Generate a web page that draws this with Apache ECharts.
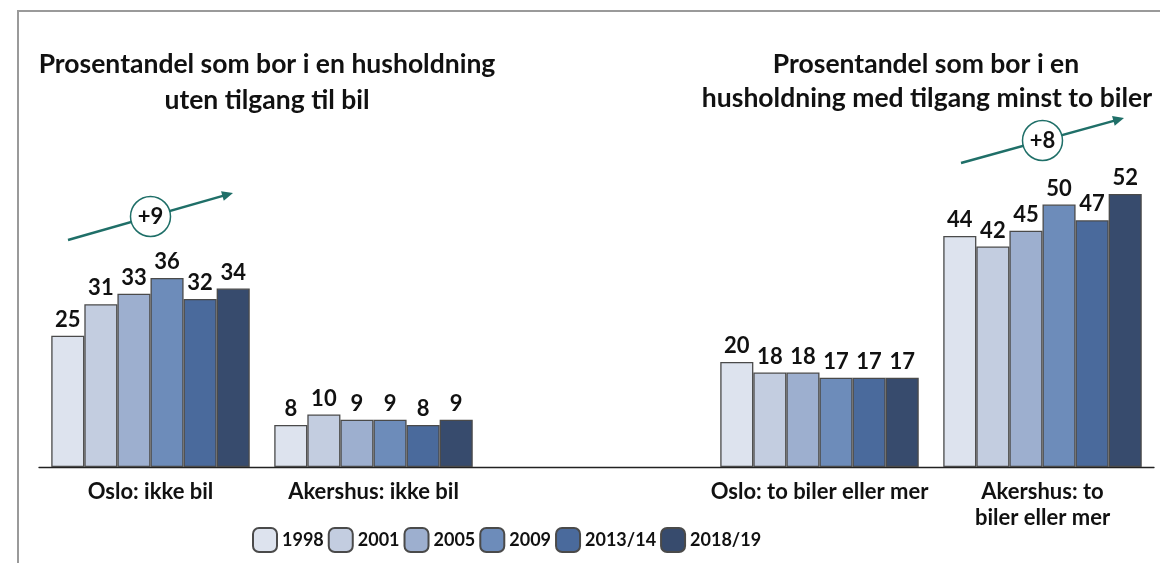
<!DOCTYPE html>
<html>
<head>
<meta charset="utf-8">
<script src="https://cdn.jsdelivr.net/npm/echarts@6/dist/echarts.min.js"></script>
<style>
  html, body { margin: 0; padding: 0; background: #fff; }
  #chart { width: 1160px; height: 563px; }
</style>
</head>
<body>
<div id="chart"></div>
<script>
const categories = ['Oslo: ikke bil', 'Akershus: ikke bil', '', 'Oslo: to biler eller mer', 'Akershus: to\nbiler eller mer'];
const years = ['1998', '2001', '2005', '2009', '2013/14', '2018/19'];
// ett array per år, samme rekkefølge som categories ('-' = tom plass i midten)
const v1998 = [25, 8, '-', 20, 44];
const v2001 = [31, 10, '-', 18, 42];
const v2005 = [33, 9, '-', 18, 45];
const v2009 = [36, 9, '-', 17, 50];
const v2013 = [32, 8, '-', 17, 47];
const v2018 = [34, 9, '-', 17, 52];
const yearValues = [v1998, v2001, v2005, v2009, v2013, v2018];
const colors = ['#dde3ee', '#c3cde0', '#9dafcf', '#6d8cba', '#4a6a9c', '#374b6d'];

const FONT = 'Lato';
const TEAL = '#1f6f68';

const myChart = echarts.init(document.getElementById('chart'));

const seriesList = years.map((name, i) => ({
  name,
  type: 'bar',
  barGap: '0%',
  barCategoryGap: '11%',
  data: yearValues[i],
  itemStyle: {
    color: colors[i],
    borderColor: '#4a4a4a',
    borderWidth: 1.3
  },
  label: {
    show: true,
    position: 'top',
    distance: 5,
    fontFamily: FONT,
    fontWeight: 'bold',
    fontSize: 22,
    color: '#111'
  },
  emphasis: { disabled: true }
}));

// pil med sirkel, for "+9" og "+8"
function trendArrow(x1, y1, x2, y2, text) {
  const ang = Math.atan2(y2 - y1, x2 - x1);
  const cx = (x1 + x2) / 2, cy = (y1 + y2) / 2;
  return [
    { type: 'line', z: 10, shape: { x1, y1, x2: x2 - 6 * Math.cos(ang), y2: y2 - 6 * Math.sin(ang) },
      style: { stroke: TEAL, lineWidth: 2.5 } },
    { type: 'polygon', z: 10,
      shape: { points: [
        [x2, y2],
        [x2 - 11 * Math.cos(ang) + 5 * Math.sin(ang), y2 - 11 * Math.sin(ang) - 5 * Math.cos(ang)],
        [x2 - 11 * Math.cos(ang) - 5 * Math.sin(ang), y2 - 11 * Math.sin(ang) + 5 * Math.cos(ang)]
      ] },
      style: { fill: TEAL } },
    { type: 'circle', z: 11, shape: { cx, cy, r: 20 },
      style: { fill: '#fff', stroke: TEAL, lineWidth: 1.5 } },
    { type: 'text', z: 12, x: cx, y: cy,
      style: { text, fontFamily: FONT, fontWeight: 'bold', fontSize: 22, fill: '#111', align: 'center', verticalAlign: 'middle' } }
  ];
}

const titleStyle = { fontFamily: FONT, fontWeight: 'bold', fontSize: 26.5, fill: '#111', align: 'center', verticalAlign: 'middle' };

const option = {
  animation: false,
  textStyle: { fontFamily: FONT },
  grid: { left: 39, right: 6, top: 152, bottom: 96 },
  legend: {
    data: years,
    left: 247,
    top: 522,
    itemWidth: 24,
    itemHeight: 24,
    itemGap: 4,
    textStyle: { fontFamily: FONT, fontWeight: 'bold', fontSize: 18, color: '#111' }
  },
  xAxis: {
    type: 'category',
    data: categories,
    axisTick: { show: false },
    axisLine: { lineStyle: { color: '#222', width: 1.3 } },
    axisLabel: {
      interval: 0,
      margin: 12,
      fontFamily: FONT,
      fontWeight: 'bold',
      fontSize: 22,
      lineHeight: 26,
      color: '#111'
    }
  },
  yAxis: {
    type: 'value',
    min: 0,
    max: 60,
    show: false,
    splitLine: { show: false }
  },
  series: seriesList,
  graphic: [
    // ramme (øvre og venstre kant)
    { type: 'polyline', shape: { points: [[18, 563], [18, 11], [1160, 11]] },
      style: { stroke: '#9a9a9a', lineWidth: 2, fill: null } },
    { type: 'text', x: 267, y: 64, style: Object.assign({ text: 'Prosentandel som bor i en husholdning' }, titleStyle) },
    { type: 'text', x: 267, y: 100, style: Object.assign({ text: 'uten tilgang til bil' }, titleStyle) },
    { type: 'text', x: 926, y: 64, style: Object.assign({ text: 'Prosentandel som bor i en' }, titleStyle) },
    { type: 'text', x: 927, y: 98, style: Object.assign({ text: 'husholdning med tilgang minst to biler' }, titleStyle) },
    ...trendArrow(68, 240, 233, 193, '+9'),
    ...trendArrow(961, 163, 1124, 118, '+8')
  ]
};
myChart.setOption(option);
</script>
</body>
</html>
